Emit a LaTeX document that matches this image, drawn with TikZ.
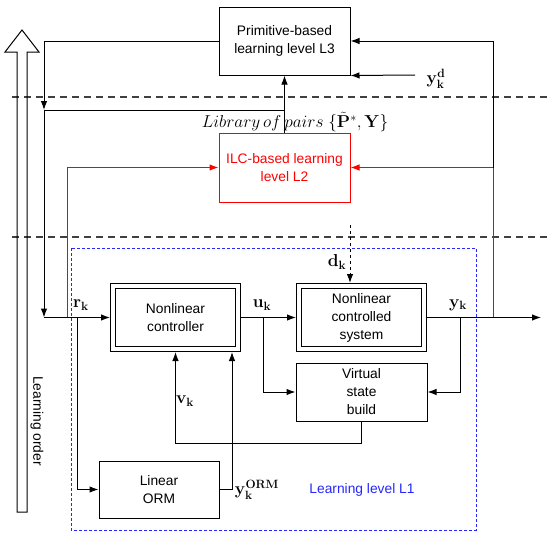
\documentclass[tikz,border=0pt]{standalone}
\usepackage[no-math]{fontspec}
\setmainfont{Liberation Sans}
\usepackage{amsmath,amssymb}
\usetikzlibrary{arrows.meta,positioning}

\begin{document}
\begin{tikzpicture}[x=1pt,y=-1pt,line width=1pt,>={Latex[length=9pt,width=6.5pt]},
    every node/.style={font=\fontsize{13.8}{18}\selectfont},
    block/.style={draw, align=center, inner sep=2pt},
    dblbox/.style={draw, double, double distance=4pt, line width=1pt, align=center,
        minimum width=125pt, minimum height=63pt, outer sep=3pt},
    lbl/.style={font=\fontsize{16.5}{18}\selectfont, inner sep=1pt}]
    \useasboundingbox (0,0) rectangle (550,538);

    % separators and learning order arrow
    \draw[dash pattern=on 7pt off 5pt, black!75, line width=1.4pt] (12,97) -- (550,97);
    \draw[dash pattern=on 7pt off 5pt, black!75, line width=1.4pt] (12,237) -- (550,237);
    \draw (22,30) -- (39,52) -- (27,52) -- (27,512) -- (17,512) -- (17,52) -- (5,52) -- cycle;
    \node[rotate=-90] (order) at (37,421) {Learning order};
    \draw[blue!85, dash pattern=on 3pt off 2pt] (71,248) rectangle (476,530);
    \node[text=blue!85] (L1) at (362,490) {Learning level L1};

    % blocks
    \node[block, minimum width=131pt, minimum height=68pt] (L3) at (284.5,41) {Primitive-based\\learning level L3};
    \node[block, draw=red, text=red, minimum width=131pt, minimum height=69pt] (L2) at (284.5,167.5) {ILC-based learning\\level L2};
    \node[dblbox] (ctrl) at (175.5,317.5) {Nonlinear\\controller};
    \node[dblbox] (sys) at (361.5,317.5) {Nonlinear\\controlled\\system};
    \node[block, minimum width=131pt, minimum height=58pt] (vsb) at (361.5,392) {Virtual\\state\\build};
    \node[block, minimum width=120pt, minimum height=57pt] (orm) at (159,489.5) {Linear\\ORM};

    % junctions
    \coordinate (jL) at (44,110);
    \coordinate (jR) at (44,317.5);
    \coordinate (jRed0) at (55,317.5);
    \coordinate (jRed) at (67,317.5);
    \coordinate (jO) at (77,317.5);
    \coordinate (jU) at (263,317.5);
    \coordinate (jY) at (460,317.5);
    \coordinate (jY2) at (493,317.5);
    \coordinate (out) at (541,317.5);
    \coordinate (yd) at (415,75);
    \coordinate (dk) at (350,225);
    \coordinate (vb) at (361.5,443);

    % level L3
    \draw[->] (L3.west) -| (jL);
    \draw[->] (L2.north) -- (L3.south);
    \draw (L2.north |- jL) -- (jL);
    \node[lbl] (lib) at (295,122) {$Library\,of\,pairs\;\{\tilde{\mathbf{P}}^{*},\mathbf{Y}\}$};
    \draw[->] (yd) -- (L3.south east);
    \node[lbl] (ydl) at (436,79) {$\mathbf{y}_{\mathbf{k}}^{\mathbf{d}}$};

    % level L2
    \draw[red] (jRed0) -- (jRed);
    \draw[red,->] (jRed) |- (L2.west);
    \draw[red,->] (jY2) |- (L2.east);
    \draw[->] (jY2 |- L2.east) |- (L3.east);

    % level L1
    \draw[->] (jL) -- (jR);
    \draw[->] (jR) -- (ctrl.west);
    \draw[->] (jO) |- (orm.west);
    \draw[->] (ctrl.east) -- (sys.west);
    \draw[->] (jU) |- (vsb.west);
    \draw[->] (sys.east) -- (out);
    \draw[->] (jY) |- (vsb.east);
    \draw[->, dashed] (dk) -- (dk |- sys.north);
    \draw[->] (vsb.south) -- (vb) -| (ctrl.south);
    \draw[->] (orm.east) -| ([xshift=-9pt]ctrl.south east);

    % signal labels
    \node[lbl] (rk) at (81,305) {$\mathbf{r}_{\mathbf{k}}$};
    \node[lbl] (uk) at (262,305) {$\mathbf{u}_{\mathbf{k}}$};
    \node[lbl] (yk) at (458,305) {$\mathbf{y}_{\mathbf{k}}$};
    \node[lbl] (dkl) at (337,262) {$\mathbf{d}_{\mathbf{k}}$};
    \node[lbl] (vk) at (185,401) {$\mathbf{v}_{\mathbf{k}}$};
    \node[lbl] (yorm) at (257,490) {$\mathbf{y}_{\mathbf{k}}^{\mathbf{ORM}}$};
\end{tikzpicture}
\end{document}
